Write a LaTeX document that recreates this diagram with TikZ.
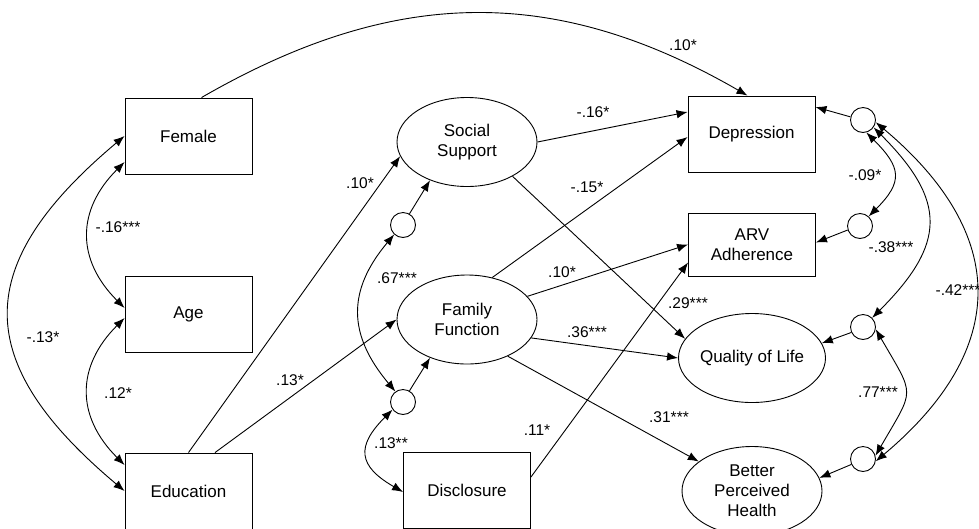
\documentclass[tikz,border=0pt]{standalone}
\usepackage{fontspec}
\setmainfont{Liberation Sans}
\usepackage{tikz}
\usetikzlibrary{arrows.meta,shapes.geometric,calc}

\begin{document}
\begin{tikzpicture}[x=1pt,y=-1pt,
  obsbox/.style={draw,line width=0.9pt,minimum width=127pt,minimum height=76pt,inner sep=0pt,align=center,font=\fontsize{17}{20}\selectfont},
  latent/.style={draw,ellipse,line width=0.9pt,minimum width=140pt,minimum height=89pt,inner sep=0pt,align=center,font=\fontsize{17}{20}\selectfont},
  errc/.style={draw,circle,line width=0.9pt,minimum size=25pt,inner sep=0pt},
  reg/.style={line width=0.9pt,-{Latex[length=11pt,width=8.5pt]}},
  cov/.style={line width=0.9pt,{Latex[length=11pt,width=8.5pt]}-{Latex[length=11pt,width=8.5pt]}},
  coef/.style={font=\fontsize{15.5}{17}\selectfont,inner sep=0pt}]
\useasboundingbox (0,0) rectangle (979,528);
\clip (0,0) rectangle (979,528);
\node[obsbox] (Female) at (188.5,136) {Female};
\node[obsbox] (Age) at (188.5,314) {Age};
\node[obsbox] (Edu) at (188.5,491) {Education};
\node[obsbox] (Disc) at (467,490) {Disclosure};
\node[latent] (SS) at (467,142) {Social\\Support};
\node[latent] (FF) at (467,319.5) {Family\\Function};
\node[obsbox] (Dep) at (751.5,134) {Depression};
\node[obsbox,minimum height=63pt] (ARV) at (752,244.5) {ARV\\Adherence};
\node[latent] (QoL) at (752,358) {Quality of Life};
\node[latent] (BPH) at (752,491) {Better\\Perceived\\Health};
\node[errc] (eSS) at (403,225) {};
\node[errc] (eFF) at (403,402) {};
\node[errc] (eDep) at (863,120) {};
\node[errc] (eARV) at (860,226) {};
\node[errc] (eQoL) at (863,327) {};
\node[errc] (eBPH) at (863,459) {};
\draw[reg] ([xshift=13pt]Female.north) to[out=30,in=150,looseness=1.04] ([xshift=-4pt]Dep.north);
\draw[reg] (SS.east) -- ([yshift=22pt]Dep.west);
\draw[reg] (FF.59) -- ([yshift=-3pt]Dep.west);
\draw[reg] (SS.-37) -- (QoL.164);
\draw[reg] (FF.21) -- (ARV.west);
\draw[reg] (FF.-16) -- (QoL.west);
\draw[reg] (FF.-42) -- (BPH.151);
\draw[reg] ([yshift=13pt]Disc.east) -- ([yshift=-18pt]ARV.west);
\draw[reg] (Edu.north) -- (SS.192);
\draw[reg] ([xshift=26.5pt]Edu.north) -- (FF.west);
\draw[reg] (eSS.60) -- (SS.226);
\draw[reg] (eFF.60) -- (FF.226);
\draw[reg] (eDep.166) -- ([yshift=27pt]Dep.east);
\draw[reg] (eARV.198) -- ([yshift=2pt]ARV.east);
\draw[reg] (eQoL.205) -- (QoL.12);
\draw[reg] (eBPH.205) -- (BPH.11);
\draw[cov] ([yshift=-26pt]Female.west) to[out=225,in=135,looseness=1.2] ([yshift=6pt]Age.west);
\draw[cov] ([yshift=-4pt]Age.west) to[out=225,in=135,looseness=1.2] ([yshift=26pt]Edu.west);
\draw[cov] (Female.west) to[out=220,in=140,looseness=1.45] (Edu.west);
\draw[cov] (eSS.227) to[out=230,in=130,looseness=1.2] (eFF.126);
\draw[cov] (eFF.216) to[out=225,in=150,looseness=1.6] ([yshift=-2pt]Disc.west);
\draw[cov] (eDep.-75) to[out=-45,in=45,looseness=1.5] (eARV.48);
\draw[cov] (eDep.-35) to[out=-45,in=45,looseness=1.4] (eQoL.45);
\draw[cov] (eDep.-10) to[out=-40,in=40,looseness=1.32] (eBPH.-10);
\draw[cov] (eQoL.-10) to[out=-60,in=60,looseness=1.6] (eBPH.15);
\node[coef] (cFemDep) at (683,45) {.10*};
\node[coef] (cSSDep) at (593,112) {-.16*};
\node[coef] (cFFDep) at (587,187) {-.15*};
\node[coef] (cFFARV) at (562,272) {.10*};
\node[coef] (cSSQoL) at (688,303) {.29***};
\node[coef] (cFFQoL) at (587,332) {.36***};
\node[coef] (cFFBPH) at (669,417) {.31***};
\node[coef] (cDiscARV) at (537,430) {.11*};
\node[coef] (cEduSS) at (360,183) {.10*};
\node[coef] (cEduFF) at (290,380) {.13*};
\node[coef] (cFemAge) at (118,227) {-.16***};
\node[coef] (cAgeEdu) at (118,393) {.12*};
\node[coef] (cFemEdu) at (43,337) {-.13*};
\node[coef] (ceSSeFF) at (397,278) {.67***};
\node[coef] (ceFFDisc) at (391,443) {.13**};
\node[coef] (ceDepARV) at (865,175) {-.09*};
\node[coef] (ceDepQoL) at (891,247) {-.38***};
\node[coef] (ceDepBPH) at (958,290) {-.42***};
\node[coef] (ceQoLBPH) at (878,392) {.77***};
\end{tikzpicture}
\end{document}
